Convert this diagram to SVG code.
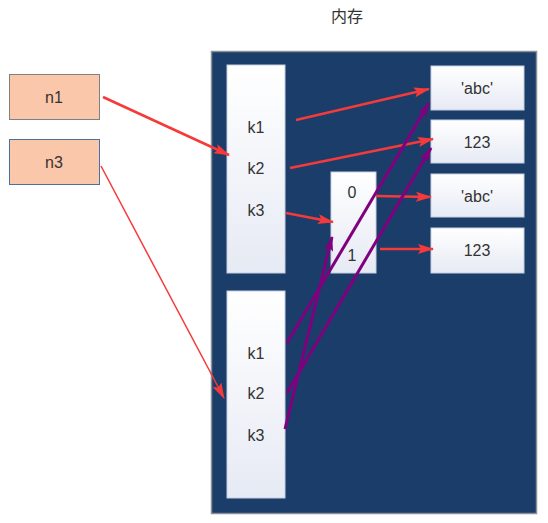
<svg xmlns="http://www.w3.org/2000/svg" width="548" height="523" viewBox="0 0 548 523">
<defs>
<linearGradient id="g" x1="0" y1="0" x2="0" y2="1"><stop offset="0" stop-color="#ffffff"/><stop offset="1" stop-color="#e6eaf4"/></linearGradient>
<marker id="ar2" viewBox="0 0 16 10" refX="15" refY="5" markerWidth="16" markerHeight="10" orient="auto" markerUnits="userSpaceOnUse"><path d="M0,0 L16,5 L0,10 L3,5 Z" fill="#f43a3a"/></marker>
<marker id="ap" viewBox="0 0 15 9" refX="14" refY="4.5" markerWidth="15" markerHeight="9" orient="auto" markerUnits="userSpaceOnUse"><path d="M0,0 L15,4.5 L0,9 L3,4.5 Z" fill="#800080"/></marker>
</defs>
<style>
text{font-family:"Liberation Sans","Noto Sans CJK SC",sans-serif;font-size:16px;fill:#333;text-anchor:middle;dominant-baseline:central}
.box{fill:url(#g);stroke:#c8cfe0;stroke-width:1}
.var{fill:#fbc7aa;stroke-width:1}
.r{stroke:#f43a3a;stroke-width:2.5;fill:none;marker-end:url(#ar2)}
.p{stroke:#800080;stroke-width:3;fill:none;marker-end:url(#ap)}
</style>
<text x="347" y="16">内存</text>
<g id="memory"><rect x="211.5" y="51.5" width="325" height="462" fill="#1b3d69" stroke="#8a8f99" stroke-width="1.5"/></g>
<g id="n1"><rect class="var" x="9.5" y="74.5" width="90" height="45" stroke="#808080"/><text x="54" y="97">n1</text></g>
<g id="n3"><rect class="var" x="9.5" y="139.5" width="90" height="45" stroke="#4a6fa5"/><text x="54" y="162">n3</text></g>
<g id="dict1"><rect class="box" x="227" y="65" width="58" height="208"/><text x="256" y="127">k1</text><text x="256" y="168">k2</text><text x="256" y="210">k3</text></g>
<g id="dict2"><rect class="box" x="227" y="291" width="58" height="207"/><text x="256" y="353">k1</text><text x="256" y="393">k2</text><text x="256" y="435">k3</text></g>
<g id="list"><rect class="box" x="331" y="172" width="45" height="101"/><text x="352" y="192">0</text><text x="352" y="255">1</text></g>
<g id="v1"><rect class="box" x="431" y="66" width="93" height="44"/><text x="477" y="88">'abc'</text></g>
<g id="v2"><rect class="box" x="431" y="120" width="93" height="43"/><text x="477" y="142">123</text></g>
<g id="v3"><rect class="box" x="431" y="174" width="93" height="43"/><text x="477" y="196">'abc'</text></g>
<g id="v4"><rect class="box" x="431" y="228" width="93" height="45"/><text x="477" y="250">123</text></g>
<g id="connectors">
<line class="r" x1="103" y1="97" x2="229" y2="155"/>
<line class="r" x1="101" y1="166" x2="224" y2="398" style="stroke-width:1.5"/>
<line class="r" x1="296" y1="120" x2="429" y2="89"/>
<line class="r" x1="290" y1="168" x2="433" y2="139"/>
<line class="r" x1="286" y1="213" x2="333" y2="222"/>
<line class="r" x1="376" y1="196" x2="431" y2="197"/>
<line class="r" x1="380" y1="249" x2="433" y2="249"/>
<line class="p" x1="287" y1="343" x2="429" y2="103"/>
<line class="p" x1="287" y1="393" x2="431" y2="148"/>
<line class="p" x1="285" y1="429" x2="332" y2="237"/>
</g>
</svg>
